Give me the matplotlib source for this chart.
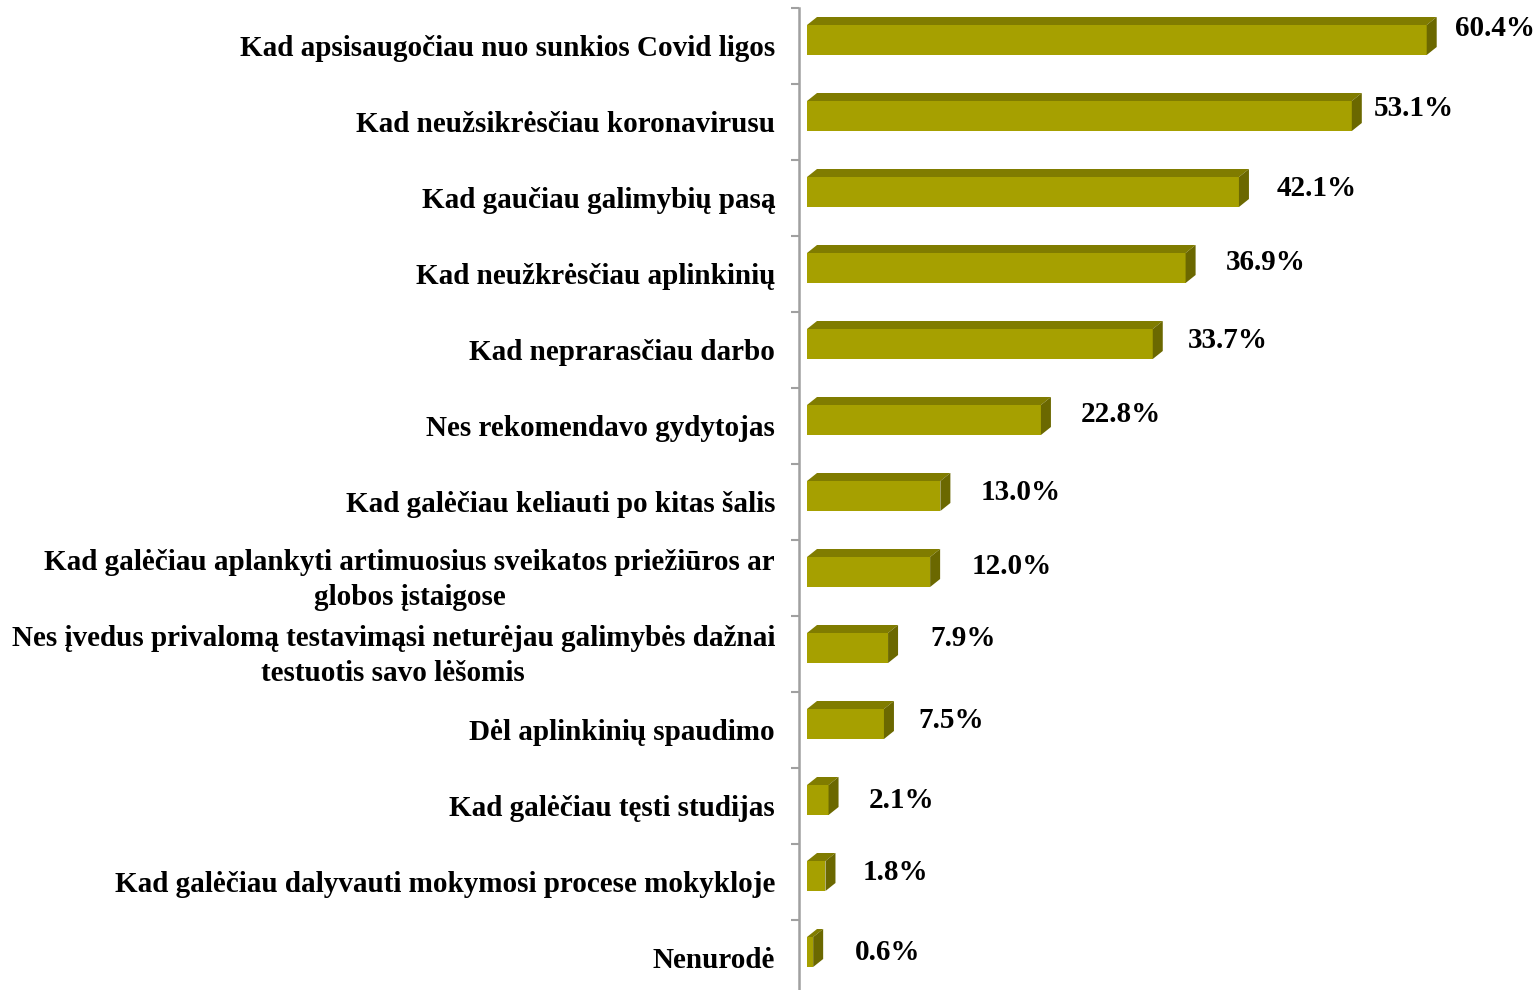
import matplotlib
matplotlib.use("Agg")
import matplotlib.pyplot as plt
from matplotlib.patches import Polygon
from matplotlib.transforms import blended_transform_factory, offset_copy

categories = [
    "Kad apsisaugočiau nuo sunkios Covid ligos",
    "Kad neužsikrėsčiau koronavirusu",
    "Kad gaučiau galimybių pasą",
    "Kad neužkrėsčiau aplinkinių",
    "Kad neprarasčiau darbo",
    "Nes rekomendavo gydytojas",
    "Kad galėčiau keliauti po kitas šalis",
    "Kad galėčiau aplankyti artimuosius sveikatos priežiūros ar\nglobos įstaigose",
    "Nes įvedus privalomą testavimąsi neturėjau galimybės dažnai\ntestuotis savo lėšomis",
    "Dėl aplinkinių spaudimo",
    "Kad galėčiau tęsti studijas",
    "Kad galėčiau dalyvauti mokymosi procese mokykloje",
    "Nenurodė",
]
values = [60.4, 53.1, 42.1, 36.9, 33.7, 22.8, 13.0, 12.0, 7.9, 7.5, 2.1, 1.8, 0.6]
value_labels = ["60.4%", "53.1%", "42.1%", "36.9%", "33.7%", "22.8%", "13.0%",
                "12.0%", "7.9%", "7.5%", "2.1%", "1.8%", "0.6%"]

# label nudges (pixels) - styling only
label_dx = [28, 22, 38, 40, 35, 40, 40, 42, 42, 34, 40, 37, 42]
label_dy = [17, 13, 10, 12, 10, 11, 9, 12, 16, 10, 5, 10, 5]

W, H, DPI = 1537, 990, 100
fig = plt.figure(figsize=(W / DPI, H / DPI), dpi=DPI)
plt.rcParams['font.family'] = ['Liberation Serif', 'DejaVu Serif']

ax_l, ax_r = 799, 1537
ax_t, ax_b = 8, 996
ax = fig.add_axes([ax_l / W, (H - ax_b) / H, (ax_r - ax_l) / W, (ax_b - ax_t) / H])

px_per_x = 10.26
x0 = -8 / px_per_x
x1 = x0 + (ax_r - ax_l) / px_per_x
n = len(categories)
ax.set_xlim(x0, x1)
ax.set_ylim(n - 0.5, -0.5)
px_per_y = (ax_b - ax_t) / n

front_c = "#a6a000"
top_c = "#807c00"
side_c = "#6b6800"

face_h = 30 / px_per_y
face_off = -6 / px_per_y
dx = 10 / px_per_x
dy = 8 / px_per_y

for i, v in enumerate(values):
    yc = i + face_off
    ax.barh(yc, v, height=face_h, left=0, color=front_c, edgecolor="none", zorder=3)
    ytop = yc - face_h / 2
    ybot = yc + face_h / 2
    top = Polygon([(0, ytop), (v, ytop), (v + dx, ytop - dy), (dx, ytop - dy)],
                  closed=True, facecolor=top_c, edgecolor="none", zorder=3)
    side = Polygon([(v, ytop), (v + dx, ytop - dy), (v + dx, ybot - dy), (v, ybot)],
                   closed=True, facecolor=side_c, edgecolor="none", zorder=3)
    ax.add_patch(top)
    ax.add_patch(side)
    tr = offset_copy(ax.transData, fig=fig, x=label_dx[i] * 72 / DPI,
                     y=label_dy[i] * 72 / DPI, units="points")
    ax.text(v, i, value_labels[i], transform=tr, ha="left", va="center",
            fontsize=21, fontweight="bold", color="black")

lab_tr = offset_copy(blended_transform_factory(ax.transAxes, ax.transData),
                     fig=fig, x=-24 * 72 / DPI, y=-2 * 72 / DPI, units="points")
for i, c in enumerate(categories):
    ax.text(0, i, c, transform=lab_tr, ha="right", va="center",
            multialignment="center", fontsize=21, fontweight="bold",
            color="black", linespacing=1.36)

for s in ["top", "right", "bottom"]:
    ax.spines[s].set_visible(False)
ax.spines["left"].set_color("#a0a0a0")
ax.spines["left"].set_linewidth(1.8)
ax.set_xticks([])
ax.set_yticks([i - 0.5 for i in range(n + 1)])
ax.set_yticklabels([])
ax.tick_params(axis="y", direction="out", length=6, width=1.5, color="#a0a0a0")

fig.savefig("out.png", dpi=DPI)
